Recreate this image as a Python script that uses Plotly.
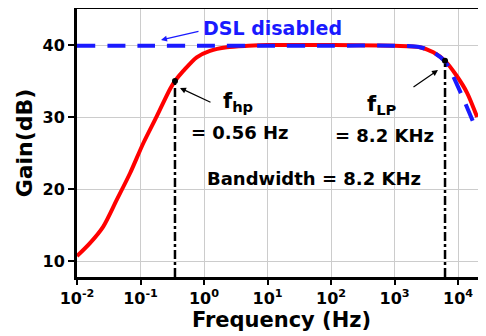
import plotly.graph_objects as go

# Red curve (DSL enabled) : frequency (Hz) and gain (dB)
red_f = [0.01, 0.016, 0.0259, 0.0422, 0.0684, 0.111, 0.180, 0.292, 0.349, 0.472, 0.767, 1.24, 2.28, 5.0, 10, 100, 1000, 2512, 4074, 6237, 9550, 13804, 19953]
red_g = [10.7, 12.5, 14.8, 18.5, 22.2, 26.4, 30.1, 33.9, 35.0, 36.4, 38.3, 39.2, 39.7, 39.9, 40.0, 40.0, 39.9, 39.7, 39.0, 37.8, 35.7, 33.4, 30.0]

# Blue dashed curve (DSL disabled)
blue_f = [0.01, 0.1, 1, 10, 100, 1000, 2512, 4074, 6237, 10715, 19953]
blue_g = [39.9, 39.9, 39.9, 39.9, 39.9, 39.9, 39.7, 39.0, 37.7, 33.6, 28.0]

# Corner markers
f_hp, g_hp = 0.349, 35.0
f_lp, g_lp = 6237, 37.8

x_tickvals = [0.01, 0.1, 1, 10, 100, 1000, 10000]
x_ticktext = ["10<sup>-2</sup>", "10<sup>-1</sup>", "10<sup>0</sup>", "10<sup>1</sup>",
              "10<sup>2</sup>", "10<sup>3</sup>", "10<sup>4</sup>"]
y_tickvals = [10, 20, 30, 40]

YMIN, YMAX = 7.8, 45.0
FONT = "DejaVu Sans, Liberation Sans, sans-serif"

fig = go.Figure()
fig.add_trace(go.Scatter(x=red_f, y=red_g, mode="lines", line=dict(color="#ff0000", width=4, shape="spline", smoothing=0.8), hoverinfo="skip"))
fig.add_trace(go.Scatter(x=blue_f, y=blue_g, mode="lines", line=dict(color="#1a1aff", width=4, dash="18px,12px", shape="spline", smoothing=0.8), hoverinfo="skip"))
for f, g in [(f_hp, g_hp), (f_lp, g_lp)]:
    fig.add_trace(go.Scatter(x=[f, f], y=[YMIN, g], mode="lines", line=dict(color="black", width=2.5, dash="dashdot"), hoverinfo="skip"))
    fig.add_trace(go.Scatter(x=[f], y=[g], mode="markers", marker=dict(color="black", size=6), hoverinfo="skip"))

# window pixel -> axis-domain fraction (plot area spans x 77..486, y 9..277 in the window)
def px(x):
    return (x - 77) / (486 - 77)
def py(y):
    return (277 - y) / (277 - 9)

def ann(text, x, y, size, color="black"):
    fig.add_annotation(text=text, x=px(x), y=py(y), xref="x domain", yref="y domain", showarrow=False,
                       xanchor="center", yanchor="middle",
                       font=dict(family=FONT, size=size, color=color, weight="bold"))

def arrow(x0, y0, x1, y1, color):
    fig.add_annotation(x=px(x1), y=py(y1), ax=px(x0), ay=py(y0), xref="x domain", yref="y domain",
                       axref="x domain", ayref="y domain", showarrow=True, arrowhead=2, arrowsize=1,
                       arrowwidth=1.2, arrowcolor=color, text="")

ann("DSL disabled", 272, 28, 19, color="#1a1aff")
ann("f<sub>hp</sub>", 238, 102, 21)
ann("= 0.56 Hz", 240, 132, 18)
ann("f<sub>LP</sub>", 382, 105, 21)
ann("= 8.2 KHz", 384, 135, 18)
ann("Bandwidth = 8.2 KHz", 314, 178, 18)

arrow(200, 31, 161, 40, "#1a1aff")
arrow(212, 103, 180, 88, "black")
arrow(412, 88, 438, 70, "black")

# page body has an 8px default margin; figure sized/offset so the plot lands where the reference has it
fig.update_layout(
    width=478, height=328,
    margin=dict(l=69, r=0, t=1, b=59),
    paper_bgcolor="white", plot_bgcolor="white",
    showlegend=False,
    font=dict(family=FONT, color="black"),
    xaxis=dict(type="log", range=[-2, 4.44], tickvals=x_tickvals, ticktext=x_ticktext,
               showgrid=True, gridcolor="#cccccc", gridwidth=1, automargin=False,
               showline=True, linecolor="black", linewidth=3, mirror=True,
               ticks="outside", ticklen=5, tickwidth=2, tickcolor="black",
               tickfont=dict(size=16, weight="bold", family=FONT),
               title=dict(text="Frequency (Hz)", font=dict(size=21, weight="bold", family=FONT), standoff=0),
               zeroline=False),
    yaxis=dict(range=[YMIN, YMAX], tickvals=y_tickvals,
               showgrid=True, gridcolor="#cccccc", gridwidth=1, automargin=False,
               showline=True, linecolor="black", linewidth=3,
               ticks="outside", ticklen=6, tickwidth=2, tickcolor="black",
               tickfont=dict(size=16, weight="bold", family=FONT),
               title=dict(text="Gain(dB)", font=dict(size=22, weight="bold", family=FONT), standoff=4),
               zeroline=False),
)

fig.write_html("out.html")
